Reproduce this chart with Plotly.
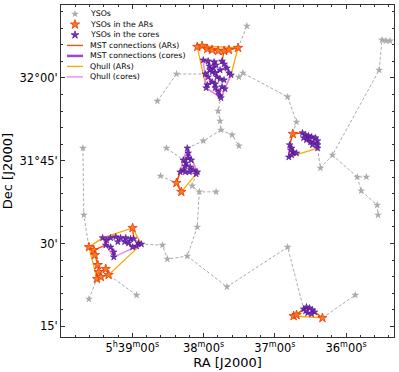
import numpy as np
import plotly.graph_objects as go

# ---- YSOs outside ARs / cores (gray stars) ----
yso_ra = [84.923, 84.920, 84.902, 84.735, 84.662, 84.595, 84.630, 84.651, 84.501, 84.439,
          84.442, 84.449, 84.400, 84.376, 84.376, 84.362, 84.205, 84.174, 84.348, 84.540,
          84.515, 84.456, 84.522, 84.557, 84.627, 84.644, 84.418, 84.205, 83.968, 84.090,
          84.048, 83.884, 83.874, 83.860, 83.846, 83.961, 83.929, 83.947, 83.891, 83.888]
yso_dec = [31.788, 31.586, 31.332, 31.344, 31.930, 32.012, 31.788, 31.704, 31.810, 31.843,
           31.870, 31.900, 31.828, 31.795, 32.003, 32.015, 31.943, 31.867, 32.157, 31.674,
           31.656, 31.656, 31.550, 31.462, 31.453, 31.495, 31.369, 31.489, 31.344, 31.728,
           31.767, 32.024, 32.115, 32.112, 32.112, 31.701, 31.701, 31.659, 31.616, 31.586]

# ---- MST of the full sample (gray dashed), None = break ----
mst_ra = [84.923, 84.920, 84.902, None,
          84.902, 84.874, None,
          84.735, 84.833, None,
          84.662, 84.595, 84.494, None,
          84.630, 84.571, None,
          84.651, 84.595, None,
          84.557, 84.501, 84.439, 84.442, 84.449, 84.439, None,
          84.439, 84.400, 84.376, None,
          84.404, 84.376, 84.362, 84.205, 84.174, 84.187, None,
          84.379, 84.348, None,
          84.526, 84.540, 84.515, 84.456, None,
          84.515, 84.522, 84.557, 84.627, 84.644, 84.718, None,
          84.557, 84.418, 84.205, 84.149, None,
          84.083, 83.968, None,
          84.100, 84.090, 84.048, 83.884, 83.874, 83.860, 83.846, None,
          84.048, 83.961, 83.929, None,
          83.961, 83.947, 83.891, 83.888]
mst_dec = [31.788, 31.586, 31.489, None,
           31.332, 31.393, None,
           31.344, 31.405, None,
           31.930, 32.012, 32.012, None,
           31.788, 31.752, None,
           31.704, 31.683, None,
           31.788, 31.810, 31.843, 31.870, 31.900, 31.940, None,
           31.843, 31.828, 31.795, None,
           32.009, 32.003, 32.015, 31.943, 31.867, 31.831, None,
           32.091, 32.157, None,
           31.710, 31.674, 31.656, 31.656, None,
           31.656, 31.550, 31.462, 31.453, 31.495, 31.498, None,
           31.462, 31.369, 31.489, 31.302, None,
           31.275, 31.344, None,
           31.788, 31.728, 31.767, 32.024, 32.115, 32.112, 32.112, None,
           31.767, 31.701, 31.701, None,
           31.701, 31.659, 31.616, 31.586]

# ---- YSOs in the ARs (outside the cores) ----
ar_ra = [84.522, 84.505, 84.487, 84.470, 84.449, 84.428, 84.411, 84.379,
         84.595, 84.578,
         84.187,
         84.902, 84.885, 84.881, 84.871, 84.868, 84.874, 84.860, 84.843, 84.833, 84.749,
         84.184, 84.174, 84.083]
ar_dec = [32.094, 32.097, 32.088, 32.085, 32.082, 32.082, 32.085, 32.091,
          31.683, 31.656,
          31.831,
          31.489, 31.480, 31.465, 31.435, 31.414, 31.393, 31.399, 31.423, 31.405, 31.547,
          31.281, 31.284, 31.275]
ar_grp = ["N"] * 8 + ["C"] * 2 + ["E"] + ["SW"] * 10 + ["S"] * 3

# ---- YSOs in the cores ----
core_ra = [84.501, 84.484, 84.463, 84.435, 84.428, 84.418, 84.411, 84.404, 84.480, 84.466,
           84.456, 84.494, 84.484, 84.470, 84.459, 84.453, 84.442, 84.470, 84.459, 84.487,
           84.491, 84.459, 84.435, 84.425, 84.449, 84.442, 84.439, 84.477, 84.442, 84.428,
           84.557, 84.554, 84.554, 84.571, 84.543, 84.561, 84.564, 84.571, 84.582, 84.547,
           84.536, 84.522, 84.526, 84.550, 84.564,
           84.153, 84.142, 84.132, 84.121, 84.107, 84.100, 84.100, 84.100, 84.114, 84.125,
           84.139, 84.149, 84.128, 84.118,
           84.198, 84.191, 84.187, 84.174, 84.201, 84.191, 84.194,
           84.854, 84.840, 84.826, 84.808, 84.791, 84.773, 84.756, 84.745, 84.728, 84.718,
           84.735, 84.749, 84.826, 84.843, 84.815, 84.815, 84.801, 84.777, 84.763,
           84.149, 84.139, 84.128, 84.118, 84.111, 84.121, 84.135, 84.142]
core_dec = [32.054, 32.051, 32.048, 32.051, 32.042, 32.030, 32.015, 32.009, 32.036, 32.030,
            32.039, 32.012, 32.003, 32.018, 32.015, 32.003, 31.997, 31.988, 31.982, 31.979,
            31.970, 31.970, 31.973, 31.967, 31.958, 31.946, 31.940, 32.024, 32.024, 31.994,
            31.788, 31.773, 31.758, 31.752, 31.752, 31.743, 31.734, 31.722, 31.716, 31.731,
            31.722, 31.716, 31.710, 31.716, 31.716,
            31.834, 31.828, 31.825, 31.822, 31.819, 31.810, 31.798, 31.788, 31.804, 31.807,
            31.813, 31.819, 31.816, 31.798,
            31.798, 31.788, 31.776, 31.773, 31.761, 31.767, 31.782,
            31.517, 31.510, 31.517, 31.520, 31.517, 31.517, 31.514, 31.514, 31.501, 31.498,
            31.492, 31.489, 31.489, 31.495, 31.474, 31.459, 31.505, 31.505, 31.501,
            31.302, 31.308, 31.305, 31.299, 31.293, 31.287, 31.290, 31.296]
core_grp = (["N"] * 30 + ["C"] * 15 + ["E1"] * 14 + ["E2"] * 7 + ["SW"] * 19 + ["S"] * 8)
CORE_TO_AR = {"N": "N", "C": "C", "E1": "E", "E2": "E", "SW": "SW", "S": "S"}

COSD = np.cos(np.radians(31.7))


def proj(ra, dec):
    return np.column_stack([np.asarray(ra) * COSD, np.asarray(dec)])


def convex_hull(ra, dec):
    p = proj(ra, dec)
    order = sorted(range(len(p)), key=lambda i: (p[i, 0], p[i, 1]))

    def cross(o, a, b):
        return (p[a, 0] - p[o, 0]) * (p[b, 1] - p[o, 1]) - (p[a, 1] - p[o, 1]) * (p[b, 0] - p[o, 0])

    lower, upper = [], []
    for i in order:
        while len(lower) >= 2 and cross(lower[-2], lower[-1], i) <= 0:
            lower.pop()
        lower.append(i)
    for i in reversed(order):
        while len(upper) >= 2 and cross(upper[-2], upper[-1], i) <= 0:
            upper.pop()
        upper.append(i)
    idx = lower[:-1] + upper[:-1]
    idx.append(idx[0])
    return [ra[i] for i in idx], [dec[i] for i in idx]


def min_span_tree(ra, dec):
    p = proj(ra, dec)
    n = len(p)
    d = np.hypot(p[:, None, 0] - p[None, :, 0], p[:, None, 1] - p[None, :, 1])
    used = np.zeros(n, bool)
    used[0] = True
    best = d[0].copy()
    parent = np.zeros(n, int)
    edges = []
    for _ in range(n - 1):
        j = int(np.argmin(np.where(used, np.inf, best)))
        edges.append((parent[j], j))
        used[j] = True
        upd = (d[j] < best) & ~used
        parent[upd] = j
        best = np.where(upd, d[j], best)
    return edges


def group(ras, decs, grps, key):
    sel = [i for i, g in enumerate(grps) if g == key]
    return [ras[i] for i in sel], [decs[i] for i in sel]


# assemble hulls / MSTs
hull_ar_x, hull_ar_y, mst_ar_x, mst_ar_y = [], [], [], []
for a in dict.fromkeys(ar_grp):
    r1, d1 = group(ar_ra, ar_dec, ar_grp, a)
    cores = [c for c, t in CORE_TO_AR.items() if t == a]
    for c in cores:
        r2, d2 = group(core_ra, core_dec, core_grp, c)
        r1, d1 = r1 + r2, d1 + d2
    hx, hy = convex_hull(r1, d1)
    hull_ar_x += hx + [None]
    hull_ar_y += hy + [None]
    for i, j in min_span_tree(r1, d1):
        mst_ar_x += [r1[i], r1[j], None]
        mst_ar_y += [d1[i], d1[j], None]

hull_c_x, hull_c_y, mst_c_x, mst_c_y = [], [], [], []
for c in dict.fromkeys(core_grp):
    r1, d1 = group(core_ra, core_dec, core_grp, c)
    hx, hy = convex_hull(r1, d1)
    hull_c_x += hx + [None]
    hull_c_y += hy + [None]
    for i, j in min_span_tree(r1, d1):
        mst_c_x += [r1[i], r1[j], None]
        mst_c_y += [d1[i], d1[j], None]

GRAY = "#ababab"
C_AR_MST = "orangered"
C_AR_HULL = "#ffa500"
C_CORE_MST = "#a142d6"
C_CORE_HULL = "violet"

fig = go.Figure()
fig.add_trace(go.Scatter(x=mst_ra, y=mst_dec, mode="lines",
                         line=dict(color=GRAY, width=1, dash="3px,2px")))
fig.add_trace(go.Scatter(x=yso_ra, y=yso_dec, mode="markers",
                         marker=dict(symbol="star", size=6, color=GRAY, line=dict(width=0))))
fig.add_trace(go.Scatter(x=hull_ar_x, y=hull_ar_y, mode="lines", line=dict(color=C_AR_HULL, width=1.3)))
fig.add_trace(go.Scatter(x=mst_ar_x, y=mst_ar_y, mode="lines", line=dict(color=C_AR_MST, width=1.3)))
fig.add_trace(go.Scatter(x=ar_ra, y=ar_dec, mode="markers",
                         marker=dict(symbol="star", size=7, color="#ff7a1a",
                                     line=dict(color="#e03a10", width=0.8))))
fig.add_trace(go.Scatter(x=mst_c_x, y=mst_c_y, mode="lines", line=dict(color=C_CORE_MST, width=2)))
fig.add_trace(go.Scatter(x=hull_c_x, y=hull_c_y, mode="lines", line=dict(color=C_CORE_HULL, width=1.4)))
fig.add_trace(go.Scatter(x=core_ra, y=core_dec, mode="markers",
                         marker=dict(symbol="star", size=5, color="#7b2cbf",
                                     line=dict(color="#4a1585", width=0.6))))

# hand-made legend on an overlay axis (paper-like 0..1 coordinates)
legend_rows = [
    ("YSOs", "marker", dict(color=GRAY, size=6, line=dict(width=0))),
    ("YSOs in the ARs", "marker", dict(color="#ff7a1a", size=7, line=dict(color="#e03a10", width=0.8))),
    ("YSOs in the cores", "marker", dict(color="#7b2cbf", size=6, line=dict(color="#4a1585", width=0.6))),
    ("MST connections (ARs)", "line", dict(color=C_AR_MST, width=1.3)),
    ("MST connections (cores)", "line", dict(color=C_CORE_MST, width=2.5)),
    ("Qhull (ARs)", "line", dict(color=C_AR_HULL, width=1.3)),
    ("Qhull (cores)", "line", dict(color=C_CORE_HULL, width=1.3)),
]
annotations = []
for k, (label, kind, sty) in enumerate(legend_rows):
    yy = 0.973 - k * 0.0316
    if kind == "marker":
        fig.add_trace(go.Scatter(x=[0.042], y=[yy], mode="markers", xaxis="x2", yaxis="y2",
                                 marker=dict(symbol="star", **sty)))
    else:
        fig.add_trace(go.Scatter(x=[0.018, 0.066], y=[yy, yy], mode="lines", xaxis="x2", yaxis="y2",
                                 line=sty))
    annotations.append(dict(text=label, x=0.081, y=yy, xref="paper", yref="paper",
                            xanchor="left", yanchor="middle", showarrow=False,
                            font=dict(size=7.8, color="black")))

axis_common = dict(showline=True, linecolor="#333", linewidth=1, mirror="ticks",
                   ticks="inside", ticklen=4, tickwidth=1, tickcolor="#333",
                   showgrid=False, zeroline=False,
                   tickfont=dict(size=11.5, color="black"))

fig.update_layout(
    width=399, height=372,
    margin=dict(l=60, r=4, t=5, b=35),
    paper_bgcolor="white", plot_bgcolor="rgba(0,0,0,0)",
    showlegend=False,
    font=dict(family="DejaVu Sans", color="black"),
    annotations=annotations,
    xaxis=dict(range=[85.000, 83.832], tickmode="array",
               tickvals=[84.75, 84.5, 84.25, 84.0],
               ticktext=["5<sup>h</sup>39<sup>m</sup>00<sup>s</sup>", "38<sup>m</sup>00<sup>s</sup>",
                         "37<sup>m</sup>00<sup>s</sup>", "36<sup>m</sup>00<sup>s</sup>"],
               minor=dict(tick0=0, dtick=0.05, ticklen=2, ticks="inside", tickcolor="#333"),
               title=dict(text="RA [J2000]", font=dict(size=13), standoff=4),
               **axis_common),
    yaxis=dict(range=[31.2175, 32.2205], tickmode="array",
               tickvals=[31.25, 31.5, 31.75, 32.0],
               ticktext=["15'", "30'", "31°45'", "32°00'"],
               minor=dict(tick0=0, dtick=0.05, ticklen=2, ticks="inside", tickcolor="#333"),
               title=dict(text="Dec [J2000]", font=dict(size=13), standoff=6),
               **axis_common),
    xaxis2=dict(overlaying="x", range=[0, 1], visible=False),
    yaxis2=dict(overlaying="y", range=[0, 1], visible=False),
)

# drop the browser's default 8px body margin so the figure sits at the page origin
fig.write_html("out.html", config={"displayModeBar": False},
               post_script="document.body.style.margin='0';")
